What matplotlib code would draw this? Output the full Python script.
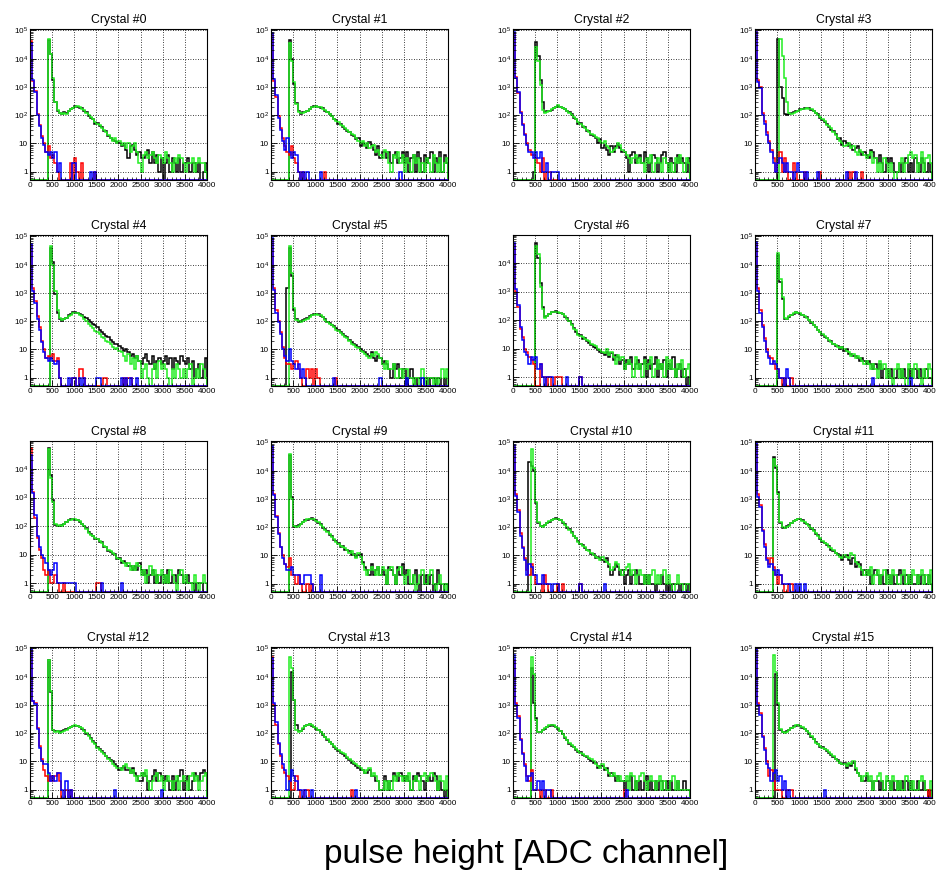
import numpy as np
import matplotlib
matplotlib.use("Agg")
import matplotlib.pyplot as plt
from matplotlib.ticker import FixedLocator, MultipleLocator, LogLocator, NullFormatter

plt.rcParams['font.family'] = ['Liberation Sans', 'DejaVu Sans']
plt.rcParams['mathtext.fontset'] = 'custom'
plt.rcParams['mathtext.rm'] = 'Liberation Sans'
plt.rcParams['mathtext.it'] = 'Liberation Sans:italic'

# ---------------- data: 80 bins of 50 ADC channels (0..4000) ----------------
BIN_EDGES_ADC = list(range(0, 4001, 50))
TITLES = ["Crystal #%d" % i for i in range(16)]
X_TICKS = [0, 500, 1000, 1500, 2000, 2500, 3000, 3500, 4000]
Y_TICKS = [1, 10, 100, 1000, 10000, 100000]
Y_TICKLABELS = ["1", "10", r"$10^{2}$", r"$10^{3}$", r"$10^{4}$", r"$10^{5}$"]
Y_TOP = [1.12e5, 1.12e5, 1.12e5, 1.12e5, 1.12e5, 1.12e5, 9.5e4, 1.12e5,
         9.5e4, 1.12e5, 1.12e5, 1.12e5, 1.12e5, 1.12e5, 1.12e5, 1.12e5]

BLACK = [
 [0,0,0,0,0,0,0,0,45000,14000, 1800,280,140,115,105,125,115,135,165,185, 205,200,185,175,145,125,95,80,75,50, 52,40,38,28,27,18,16,13,12,11, 10,8,9,6,3,8,9,6,4,5, 3,3,4,6,2,5,2,4,1,3, 0,2,4,1,3,2,1,3,1,2, 2,3,1,2,2,1,2,0,1,2],
 [0,0,0,0,0,0,0,0,45000,10000, 1300,260,135,110,125,130,135,165,195,205, 205,195,185,175,145,125,105,95,70,65, 50,48,38,32,28,26,20,18,14,15, 8,10,9,7,11,9,6,4,8,3, 5,5,3,5,2,4,5,2,3,5, 2,5,1,3,4,1,5,3,1,4, 2,3,5,1,3,2,5,1,4,2],
 [0,0,0,0,0,0,0,0,0,1, 40000,12000,1800,300,130,135,145,155,185,195, 210,195,185,165,135,125,105,80,72,50, 52,38,37,28,27,20,18,15,10,14, 7,9,6,4,8,5,8,9,7,5, 5,3,1,4,5,2,3,4,2,5, 3,1,2,4,3,1,2,4,5,2, 1,3,2,1,4,2,3,2,1,3],
 [0,0,0,0,0,0,0,0,0,0, 50000,1000,400,110,100,105,115,125,135,145, 160,165,175,180,175,150,135,115,105,80, 65,55,50,38,30,28,22,14,15,9, 12,10,8,9,6,7,8,5,4,5, 4,3,6,5,3,2,4,2,1,3, 2,3,2,1,1,2,1,2,3,1, 2,1,3,2,1,3,2,1,2,1],
 [0,0,0,0,0,0,0,0,0,40000, 12000,900,200,120,100,115,130,160,180,210, 205,200,185,160,140,125,110,95,80,70, 60,50,42,35,30,27,22,18,16,15, 13,11,9,10,8,6,7,5,6,4, 3,5,7,4,3,6,2,4,5,3, 4,6,3,5,2,5,4,3,6,4, 3,5,2,4,1,2,3,1,2,5],
 [0,0,0,0,0,0,0,1500,40000,4000, 250,120,95,100,105,115,125,150,165,180, 185,175,155,135,120,95,85,75,65,55, 48,40,35,30,27,22,18,16,14,12, 10,9,8,7,6,8,5,4,6,5, 3,4,3,2,1,3,2,3,1,2, 2,0,1,2,1,0,1,1,0,1, 1,0,1,1,0,1,1,0,1,0],
 [0,0,0,0,0,0,0,0,0,0, 50000,15000,2000,300,130,135,165,195,195,205, 185,175,165,130,115,90,75,55,40,32, 30,22,24,18,16,14,12,11,9,8, 7,6,8,5,7,4,6,5,3,4, 2,4,3,5,2,3,4,2,3,5, 1,4,2,3,5,1,3,2,4,1, 3,2,5,1,2,3,1,2,0,1],
 [0,0,0,0,0,0,0,0,0,0, 22000,2500,600,120,115,145,165,185,205,195, 185,165,145,135,105,85,70,62,48,42, 33,28,26,20,19,16,13,13,10,12, 9,10,7,7,6,6,5,4,5,4, 3,4,3,2,3,2,3,1,2,2, 1,2,1,1,2,2,1,2,1,2, 1,2,2,1,2,1,1,2,1,1],
 [0,0,0,0,0,0,0,0,55000,6000, 800,110,105,105,110,115,145,165,175,175, 170,160,140,115,105,85,65,55,45,35, 36,28,27,19,19,14,13,11,11,7, 8,5,6,5,4,4,3,4,3,5, 3,2,3,1,2,3,1,2,1,2, 2,1,3,1,2,2,1,3,2,1, 1,2,1,1,0,1,1,1,0,0],
 [0,0,0,0,0,0,0,0,35000,1200, 100,105,115,125,155,175,185,195,205,185, 175,145,125,95,85,70,52,48,35,32, 28,20,22,15,16,14,10,11,9,10, 11,6,4,3,2,5,2,3,4,2, 3,2,1,4,3,2,1,4,2,5, 2,3,1,1,2,3,1,0,2,1, 2,1,2,0,1,3,1,0,1,1],
 [0,0,0,0,0,0,0,20000,15000,10000, 700,140,105,105,115,135,155,175,195,205, 195,175,145,125,95,85,65,48,42,32, 26,24,18,16,15,11,11,8,9,8, 7,6,8,4,2,3,5,4,2,3, 1,2,3,1,2,3,2,1,1,2, 1,2,1,1,0,1,1,2,1,0, 1,0,1,1,1,0,1,1,0,1],
 [0,0,0,0,0,0,0,0,30000,12000, 1800,140,95,95,105,115,135,165,185,195, 200,175,145,125,115,85,80,55,52,38, 30,27,23,21,16,14,12,11,10,7, 9,10,7,5,8,4,6,5,2,3, 2,3,1,2,3,2,1,2,1,3, 2,1,2,1,2,3,2,1,2,1, 2,1,1,2,1,2,2,1,2,1],
 [0,0,0,0,0,0,0,0,38000,2800, 125,115,115,105,115,125,135,155,165,175, 185,185,165,145,125,95,85,65,52,45, 32,27,24,19,16,13,11,10,8,7, 5,6,7,5,5,4,6,4,3,2, 2,4,3,1,2,3,5,2,4,3, 2,3,2,1,3,1,2,3,5,1, 2,3,1,2,4,3,2,4,5,4],
 [0,0,0,0,0,0,0,0,0,15000, 1500,200,115,115,145,175,195,205,185,165, 145,125,105,85,72,58,48,42,33,28, 24,20,18,16,13,11,9,8,7,6, 5,5,4,4,5,3,3,2,2,1, 1,3,2,1,2,4,3,2,4,3, 2,3,2,1,3,2,4,3,2,1, 2,3,2,4,3,1,2,1,0,1],
 [0,0,0,0,0,0,0,0,20000,1200, 350,105,105,125,145,165,185,195,185,165, 145,115,95,68,55,42,36,33,26,22, 21,17,15,14,12,10,9,9,6,7, 7,5,6,3,4,3,2,3,2,2, 1,2,2,3,1,2,1,2,1,2, 3,1,2,1,2,1,2,2,1,2, 1,2,1,1,2,1,1,2,1,1],
 [0,0,0,0,0,0,0,0,0,12000, 1000,130,105,105,115,125,155,175,185,195, 185,155,135,115,95,75,62,48,40,33, 31,27,24,20,17,14,12,11,9,8, 9,6,8,7,9,5,4,3,2,2, 3,2,2,1,2,2,1,2,1,2, 2,1,2,1,2,1,2,1,2,1, 2,1,1,2,1,1,2,1,0,1],
]

GREEN = [
 [0,0,0,0,0,0,0,0,50000,15000, 2000,300,150,120,110,120,110,140,160,180, 200,210,190,170,150,120,100,85,70,55, 50,45,35,30,25,20,15,12,15,10, 12,9,10,7,10,5,8,10,5,2, 1,4,5,3,4,5,3,2,4,3, 2,5,3,2,1,3,2,4,3,2, 1,2,2,3,1,2,3,2,2,1],
 [0,0,0,0,0,0,0,0,35000,8000, 1500,250,130,115,120,125,140,170,190,200, 210,200,190,170,150,130,110,90,75,60, 55,45,40,35,30,25,22,20,15,12, 10,12,8,10,7,8,9,5,6,4, 3,6,5,2,1,4,3,5,2,4, 1,3,2,1,4,2,3,1,2,1, 3,2,1,4,2,1,3,1,2,3],
 [0,0,0,0,0,0,0,0,0,0, 25000,8000,1200,150,120,130,140,160,180,200, 220,200,180,160,140,120,100,85,70,55, 50,40,35,30,25,22,20,17,15,12, 10,12,8,7,5,6,7,10,9,6, 5,4,3,2,3,4,2,3,2,1, 3,2,4,1,2,3,2,1,3,2, 1,2,1,3,2,4,2,1,3,2],
 [0,0,0,0,0,0,0,0,0,0, 0,50000,12000,2000,300,120,110,120,130,140, 150,160,170,180,170,160,140,120,100,85, 70,60,45,40,35,25,20,15,12,10, 8,9,10,7,8,5,4,6,5,4, 3,4,5,2,3,1,2,1,3,2, 1,2,1,0,1,2,3,1,2,4, 5,3,4,1,2,5,1,3,4,2],
 [0,0,0,0,0,0,0,0,0,45000, 10000,1200,250,130,110,120,130,150,170,190, 200,190,170,150,120,100,80,65,55,45, 40,35,28,25,20,18,15,12,10,11, 9,8,6,4,7,3,5,2,6,4, 1,2,3,1,0,2,3,1,4,2, 3,2,1,0,2,1,3,2,1,2, 1,2,3,0,1,2,1,3,2,1],
 [0,0,0,0,0,0,0,0,45000,5000, 300,110,100,95,100,110,120,140,160,170, 180,170,160,140,110,90,80,70,60,50, 45,38,32,28,25,20,15,14,12,11, 9,8,7,6,5,7,6,8,7,5, 3,2,4,2,2,3,1,1,2,1, 2,2,1,1,0,1,1,0,2,1, 0,1,1,0,1,0,1,2,1,2],
 [0,0,0,0,0,0,0,0,0,0, 40000,20000,1500,250,120,140,170,190,200,200, 190,180,160,140,110,95,70,50,45,30, 28,25,22,20,18,15,14,13,10,9, 8,7,10,6,8,5,3,6,4,5, 2,3,4,3,1,5,2,3,1,4, 2,3,5,1,2,4,2,3,1,5, 2,4,2,1,3,2,4,1,2,3],
 [0,0,0,0,0,0,0,0,0,0, 25000,3000,700,130,120,150,170,190,210,200, 190,170,150,130,110,90,75,60,50,40, 35,30,25,22,18,15,14,12,11,12, 10,9,8,6,7,5,6,5,4,3, 4,3,2,3,2,1,4,2,3,1, 2,1,0,2,3,1,2,1,0,3, 2,1,3,2,1,0,2,1,3,2],
 [0,0,0,0,0,0,0,0,50000,5000, 700,120,100,110,100,120,140,160,170,180, 175,165,150,120,100,80,60,50,45,40, 35,30,25,20,18,15,14,12,10,8, 7,6,5,4,5,3,4,3,5,4, 2,3,1,2,4,2,3,1,2,3, 1,2,1,3,2,1,0,2,3,1, 2,1,1,0,2,1,0,1,2,1],
 [0,0,0,0,0,0,0,0,40000,1000, 110,100,110,130,150,170,190,200,200,190, 170,150,120,100,80,65,55,45,38,30, 26,22,20,18,15,12,14,10,8,12, 9,5,3,2,3,4,3,2,4,2, 4,3,1,3,4,2,1,3,4,2, 1,2,3,1,2,0,1,2,3,1, 1,2,3,1,0,1,2,1,0,1],
 [0,0,0,0,0,0,0,0,60000,12000, 800,150,110,100,120,140,160,180,190,200, 200,180,150,120,100,80,60,50,40,30, 25,22,20,15,14,12,10,9,8,7, 9,7,6,5,3,4,6,5,3,2, 3,4,5,2,3,1,2,3,2,1, 2,1,2,3,1,2,1,2,3,1, 2,1,0,1,2,1,1,0,1,1],
 [0,0,0,0,0,0,0,0,25000,15000, 1500,150,100,90,100,110,140,160,180,200, 190,170,150,130,110,90,75,60,50,40, 32,28,25,20,18,15,12,10,9,8, 10,9,8,12,10,6,5,4,3,2, 3,2,4,1,2,3,1,2,3,1, 2,1,3,2,1,1,2,3,1,2, 1,3,2,1,2,3,1,2,1,3],
 [0,0,0,0,0,0,0,0,40000,3000, 130,110,120,100,110,120,130,150,170,180, 190,180,170,150,120,100,80,60,50,40, 30,25,22,18,15,12,10,8,7,6, 6,5,7,8,6,4,5,3,2,3, 4,3,5,2,1,2,3,4,2,3, 1,2,3,2,1,2,3,1,2,3, 2,1,3,4,2,3,1,2,3,4],
 [0,0,0,0,0,0,0,0,50000,20000, 1500,130,110,120,150,180,200,210,190,170, 150,130,110,90,75,60,50,40,35,30, 25,22,20,18,14,12,10,9,8,7, 6,5,4,5,6,3,4,3,2,1, 1,2,1,2,1,3,2,4,3,2, 3,2,4,1,2,3,2,1,3,4, 2,3,4,3,2,1,3,2,1,3],
 [0,0,0,0,0,0,0,0,50000,12000, 300,110,110,130,150,170,190,200,190,170, 150,120,90,70,55,45,38,32,28,24, 20,18,16,15,13,12,10,8,7,6, 8,6,5,4,3,4,3,2,3,2, 2,3,1,4,3,1,2,3,4,2, 1,2,3,2,1,2,3,1,2,1, 1,2,3,1,2,1,1,1,1,1],
 [0,0,0,0,0,0,0,0,60000,15000, 1200,140,110,100,110,130,150,170,190,200, 180,160,140,120,100,80,60,45,40,35, 30,28,25,22,18,15,12,10,9,8, 8,7,9,8,10,6,4,3,2,3, 4,2,3,1,2,3,4,2,1,3, 2,1,3,2,1,2,1,1,3,2, 1,2,1,1,2,3,2,1,1,2],
]

RED = [
 [42000,1600,700,110,45,18,10,5,8,3, 4,2,1,0,0,0,0,0,2,0, 3,1,0,2,0,0,0,0,0,1, 0,0,0,0,0,0,0,0,0,0, 0,0,0,0,0,0,0,0,0,0, 0,0,0,0,0,0,0,0,0,0, 0,0,0,0,0,0,0,0,0,0, 0,0,0,0,0,0,0,0,0,0],
 [70000,1600,450,90,35,15,8,5,4,8, 3,2,1,0,1,0,0,0,0,0, 0,0,0,0,1,0,0,0,0,0, 0,0,0,0,0,0,0,0,0,0, 0,0,0,0,0,0,0,0,0,0, 0,0,0,0,0,0,0,0,0,0, 0,0,0,0,0,0,0,0,0,0, 0,0,0,0,0,0,0,0,0,0],
 [80000,2200,600,130,50,22,10,6,4,4, 3,2,1,3,0,1,1,0,0,0, 0,0,0,0,0,0,0,0,0,0, 0,0,0,0,0,0,0,0,0,0, 0,0,0,0,0,0,0,0,0,0, 0,0,0,0,0,0,0,0,0,0, 0,0,0,0,0,0,0,0,0,0, 0,0,0,0,0,0,0,0,0,0],
 [90000,1800,1000,120,60,25,12,6,3,1, 2,5,1,3,1,0,0,2,1,0, 0,0,1,0,0,0,0,0,0,1, 0,0,0,0,0,0,0,0,0,0, 0,0,1,0,1,0,0,0,1,0, 0,0,0,0,0,0,0,0,0,0, 0,0,0,0,0,0,0,0,0,0, 0,0,0,0,0,0,0,0,0,0],
 [50000,1500,500,150,60,20,10,5,6,5, 7,4,5,1,0,0,0,0,0,1, 1,0,2,2,1,0,0,0,0,0, 0,0,0,1,1,0,0,0,0,0, 0,0,1,0,1,1,0,0,0,0, 0,0,0,0,0,0,0,0,0,0, 0,0,0,0,0,0,0,0,0,0, 0,0,0,0,0,0,0,0,0,0],
 [80000,1500,250,100,40,12,5,3,3,2, 3,4,2,1,0,0,2,1,2,0, 2,1,0,0,0,0,0,0,0,1, 0,0,0,0,0,0,0,0,0,0, 0,0,0,0,0,0,0,0,0,0, 0,0,0,0,0,0,0,0,0,0, 0,0,0,0,0,0,0,0,0,0, 0,0,0,0,0,0,0,0,0,0],
 [45000,1000,300,50,25,10,8,5,4,3, 0,0,3,1,1,0,1,0,0,1, 1,1,0,0,0,0,0,0,0,0, 1,0,0,0,0,0,0,0,0,0, 0,0,0,0,0,0,0,0,0,0, 0,0,0,0,0,0,0,0,0,0, 0,0,0,0,0,0,0,0,0,0, 0,0,0,0,0,0,0,0,0,0],
 [60000,1500,250,70,25,10,6,5,3,2, 2,1,0,1,0,0,1,0,0,0, 0,0,0,0,0,0,0,0,0,0, 0,0,0,0,0,0,0,0,0,0, 0,0,0,0,0,0,0,0,0,0, 0,0,0,0,0,0,0,0,0,0, 0,0,0,0,0,0,0,0,0,0, 0,0,0,0,0,0,0,0,0,0],
 [55000,1600,200,40,15,8,3,2,3,1, 1,2,1,0,0,1,0,0,0,0, 0,0,0,0,0,0,0,0,0,0, 1,1,0,0,0,0,0,0,0,0, 0,0,0,0,0,0,0,0,0,0, 0,0,0,0,0,0,0,0,0,0, 0,0,0,0,0,0,0,0,0,0, 0,0,0,0,0,0,0,0,0,0],
 [70000,1500,250,60,20,10,5,4,8,2, 2,1,2,1,0,0,1,0,1,0, 0,0,0,0,0,0,0,0,0,0, 0,0,0,0,0,0,0,0,0,0, 0,0,0,0,0,0,0,0,0,0, 0,0,0,0,0,0,0,0,0,0, 0,0,0,0,0,0,0,0,0,0, 0,0,0,0,0,0,0,0,0,0],
 [70000,1500,400,60,20,8,3,2,5,2, 1,1,1,0,2,1,0,0,0,0, 1,0,1,0,0,0,0,0,0,0, 1,0,0,0,0,0,0,0,0,0, 0,0,0,0,0,0,0,0,0,0, 0,0,0,0,0,0,0,0,0,0, 0,0,0,0,0,0,0,0,0,0, 0,0,0,0,0,0,0,0,0,0],
 [90000,1500,600,80,25,8,5,8,4,2, 1,2,1,0,0,1,1,0,0,0, 0,0,0,0,0,0,0,0,0,0, 0,0,0,0,0,0,0,0,0,0, 0,0,0,0,0,0,0,0,0,0, 0,0,0,0,0,0,0,0,0,0, 0,0,0,0,0,0,0,0,0,0, 0,0,0,0,0,0,0,0,0,0],
 [85000,1400,1200,150,35,12,5,3,2,3, 2,3,4,2,0,0,1,0,1,0, 0,0,0,0,0,0,0,0,0,0, 0,0,0,0,0,0,0,0,0,0, 0,0,0,0,0,0,0,0,0,0, 0,0,0,0,0,0,0,0,0,0, 0,0,0,0,0,0,0,0,0,0, 0,0,0,0,0,0,0,0,0,0],
 [50000,1000,200,40,15,6,4,3,2,1, 1,3,1,0,0,1,1,0,0,0, 0,0,0,0,0,0,0,0,0,0, 0,0,0,0,0,0,1,0,0,0, 0,0,0,0,0,0,0,0,0,0, 0,0,0,0,0,0,0,0,0,0, 0,0,0,0,0,0,0,0,0,0, 0,0,0,0,0,0,0,0,0,0],
 [40000,1200,400,60,20,8,3,2,5,1, 1,1,0,1,1,0,0,1,0,0, 0,0,0,0,0,0,0,0,0,0, 0,0,0,0,0,0,0,0,0,0, 0,0,0,0,0,0,0,0,0,0, 1,0,0,0,0,0,0,0,0,0, 0,0,0,0,0,0,0,0,0,0, 0,0,0,0,0,0,0,0,0,0],
 [100000,1200,500,80,30,10,3,5,2,1, 1,1,0,0,1,1,1,0,0,0, 0,0,0,0,0,0,0,0,0,0, 0,0,0,0,0,0,0,0,0,0, 0,0,0,0,0,0,0,0,0,0, 0,0,0,0,0,0,0,0,0,0, 0,0,0,0,0,0,0,0,0,0, 0,0,0,0,0,0,0,0,1,0],
]

BLUE = [
 [35000,1800,650,100,40,15,9,5,4,5, 3,5,1,2,0,0,0,0,0,2, 2,0,0,0,0,0,0,1,0,1, 0,0,0,0,0,0,0,0,0,0, 0,0,0,0,0,0,0,0,0,0, 0,0,0,0,0,0,0,0,0,0, 0,0,0,0,0,0,0,0,0,0, 0,0,0,0,0,0,0,0,0,0],
 [80000,1900,500,80,30,12,6,15,5,3, 5,4,1,0,1,0,1,0,0,0, 0,0,1,0,0,0,0,0,0,0, 0,0,0,0,0,0,0,0,0,0, 0,0,0,0,0,0,0,0,0,0, 0,0,0,0,0,0,0,0,1,0, 0,0,0,0,0,0,0,0,0,0, 0,0,0,0,0,0,0,0,0,0],
 [85000,2000,650,120,45,20,9,5,5,3, 5,3,5,1,1,2,0,1,1,1, 1,0,0,0,0,0,0,0,0,0, 0,0,0,0,0,0,0,0,0,0, 0,0,0,0,0,0,0,0,0,0, 0,0,0,0,0,0,0,0,0,0, 0,0,0,0,0,0,0,0,0,0, 0,0,0,0,0,0,0,0,0,0],
 [85000,1500,900,100,50,20,10,5,2,1, 2,3,2,1,2,1,1,0,1,2, 1,1,0,1,0,0,0,0,1,0, 0,0,0,0,0,0,0,0,0,0, 0,1,0,0,0,1,0,0,0,0, 0,0,0,0,0,0,0,0,0,0, 0,0,0,0,0,0,0,0,0,0, 0,0,0,0,0,0,0,0,0,0],
 [55000,1200,450,120,50,18,8,5,4,5, 4,3,4,1,0,0,0,1,0,1, 1,0,1,0,1,0,0,0,0,0, 1,1,0,0,0,0,0,0,0,0, 0,1,0,1,0,1,0,0,1,0, 0,0,0,0,0,0,0,0,0,0, 0,0,0,0,0,0,0,0,0,0, 0,0,0,0,0,0,0,0,0,0],
 [85000,1300,200,90,35,10,6,4,10,4, 3,2,3,1,2,1,0,0,0,0, 0,0,0,0,0,0,0,0,1,0, 0,0,0,0,0,0,0,0,0,0, 0,0,0,0,0,0,0,0,0,1, 0,0,0,0,0,0,0,0,0,0, 0,1,0,0,0,0,0,0,1,0, 0,0,0,0,0,0,0,0,0,0],
 [50000,1200,350,60,20,8,6,3,5,4, 5,2,3,1,0,1,1,1,0,0, 0,0,0,0,1,0,0,0,0,0, 1,0,0,0,0,0,0,0,0,0, 0,0,0,0,0,0,0,0,0,0, 0,0,0,0,0,0,0,0,0,0, 0,0,0,0,0,0,0,0,0,0, 0,0,0,0,0,0,0,0,0,0],
 [65000,1200,200,60,20,8,5,3,4,3, 2,1,1,0,2,1,0,0,0,0, 0,0,0,0,0,0,0,0,0,0, 0,0,0,0,0,0,0,0,0,0, 0,0,0,0,0,0,0,0,0,0, 0,0,0,1,0,0,0,0,0,0, 0,0,0,0,0,0,0,0,0,0, 1,0,0,0,0,0,0,0,0,0],
 [30000,1500,250,45,18,10,8,5,3,2, 3,5,1,1,1,1,1,1,1,1, 1,0,0,0,0,0,0,0,0,0, 0,0,1,0,0,0,0,0,0,0, 0,1,0,0,0,0,0,0,0,0, 0,0,0,0,0,0,0,0,0,0, 0,0,0,0,0,0,0,0,0,0, 0,0,0,0,0,0,0,0,0,0],
 [75000,1400,220,55,20,8,5,3,3,4, 2,2,2,1,1,2,2,2,1,0, 0,0,2,0,0,0,0,0,0,0, 0,0,0,0,0,0,0,0,0,0, 0,0,0,0,0,0,0,0,0,0, 0,0,0,0,0,0,0,0,0,0, 0,0,0,0,0,0,0,0,0,0, 0,0,0,0,0,0,0,0,0,0],
 [80000,1300,350,50,18,7,2,5,4,2, 2,1,1,2,1,1,1,0,1,1, 1,0,0,0,0,0,0,0,0,0, 1,0,0,0,0,0,0,0,0,0, 0,1,0,0,0,0,0,0,0,0, 0,0,0,0,0,0,0,0,0,0, 0,0,0,0,0,0,0,0,0,0, 0,0,0,0,0,0,0,0,0,0],
 [95000,1200,500,70,20,7,4,5,3,2, 3,2,1,1,1,1,0,0,1,0, 1,0,1,0,0,0,0,0,0,0, 0,0,0,0,0,0,0,0,0,0, 0,0,0,0,0,0,0,0,0,0, 0,0,0,0,0,0,0,0,0,0, 0,0,0,0,0,0,0,0,0,0, 0,0,0,0,0,0,0,0,0,0],
 [95000,1400,1100,140,30,10,8,8,4,2, 3,2,4,4,1,0,2,0,1,0, 0,0,0,0,0,0,0,0,0,0, 0,0,0,0,0,0,0,0,1,0, 0,0,0,0,0,0,0,0,0,0, 0,0,0,0,0,0,0,0,0,1, 0,0,0,0,0,0,0,0,0,0, 0,0,0,0,0,0,0,0,0,0],
 [45000,1200,250,45,18,8,5,1,2,5, 3,2,1,1,0,1,0,0,1,0, 0,0,0,0,0,0,0,0,0,0, 0,0,0,0,0,0,0,0,1,0, 0,0,0,0,0,0,0,0,0,0, 0,0,0,0,0,0,0,0,0,0, 0,0,0,0,0,0,0,0,0,0, 0,0,0,0,0,0,0,0,0,0],
 [60000,1000,350,55,18,7,2,3,4,1, 1,2,1,2,0,1,1,0,0,0, 0,0,0,0,0,0,0,0,0,0, 0,0,0,0,0,0,0,0,0,0, 0,0,0,0,0,0,0,0,0,0, 0,1,0,0,0,0,0,0,0,0, 0,0,0,0,0,0,0,0,0,0, 0,0,0,0,0,0,0,0,0,0],
 [95000,1000,450,70,25,8,6,2,4,5, 2,3,1,2,0,1,0,0,0,0, 0,0,0,0,0,0,0,0,0,0, 0,1,0,0,0,0,0,0,0,0, 0,0,0,0,0,0,0,0,0,0, 0,0,0,0,0,0,0,0,0,0, 0,0,0,0,0,0,0,0,0,0, 0,0,0,0,0,0,0,0,0,0],
]

X_LABEL = "pulse height [ADC channel]"

# ---------------- layout (pixels of the 937x873 canvas) ----------------
W, H = 937, 873
COL_LEFT = [30, 271, 513, 755]
ROW_TOP = [29, 235, 441, 647]
AX_W, AX_H = 177, 151
Y_BOTTOM = 0.5

SERIES = [(BLACK, "black"), (GREEN, "#22ee22"), (RED, "#ff0000"), (BLUE, "#0000ff")]

fig = plt.figure(figsize=(W / 100, H / 100), dpi=100)
edges = np.array(BIN_EDGES_ADC, dtype=float)

for k in range(16):
    r, c = divmod(k, 4)
    ax = fig.add_axes([COL_LEFT[c] / W, 1 - (ROW_TOP[r] + AX_H) / H, AX_W / W, AX_H / H])
    ax.set_yscale("log")
    ax.set_xlim(0, 4000)
    ax.set_ylim(Y_BOTTOM, Y_TOP[k])
    for data, col in SERIES:
        v = np.array(data[k], dtype=float)
        assert len(v) == 80, (k, col, len(v))
        v = np.where(v > 0, v, Y_BOTTOM)
        ax.stairs(v, edges, baseline=Y_BOTTOM, color=col, lw=1.1)
    ax.xaxis.set_major_locator(FixedLocator(X_TICKS))
    ax.xaxis.set_minor_locator(MultipleLocator(100))
    ax.yaxis.set_major_locator(FixedLocator(Y_TICKS))
    ax.set_yticklabels(Y_TICKLABELS)
    ax.yaxis.set_minor_locator(LogLocator(base=10, subs=np.arange(2, 10)))
    ax.yaxis.set_minor_formatter(NullFormatter())
    ax.tick_params(which="both", direction="in", labelsize=5.9, pad=1.5,
                   top=False, right=False)
    ax.tick_params(which="major", length=4, width=0.6)
    ax.tick_params(which="minor", length=2, width=0.5)
    ax.grid(True, which="major", color="black", linestyle=(0, (1, 2)), lw=0.6)
    for s in ax.spines.values():
        s.set_linewidth(0.8)
    ax.set_title(TITLES[k], fontsize=8.8, pad=4)

fig.text(526 / W, 1 - 855 / H, X_LABEL, ha="center", va="center", fontsize=24)
fig.savefig("out.png", dpi=100)
